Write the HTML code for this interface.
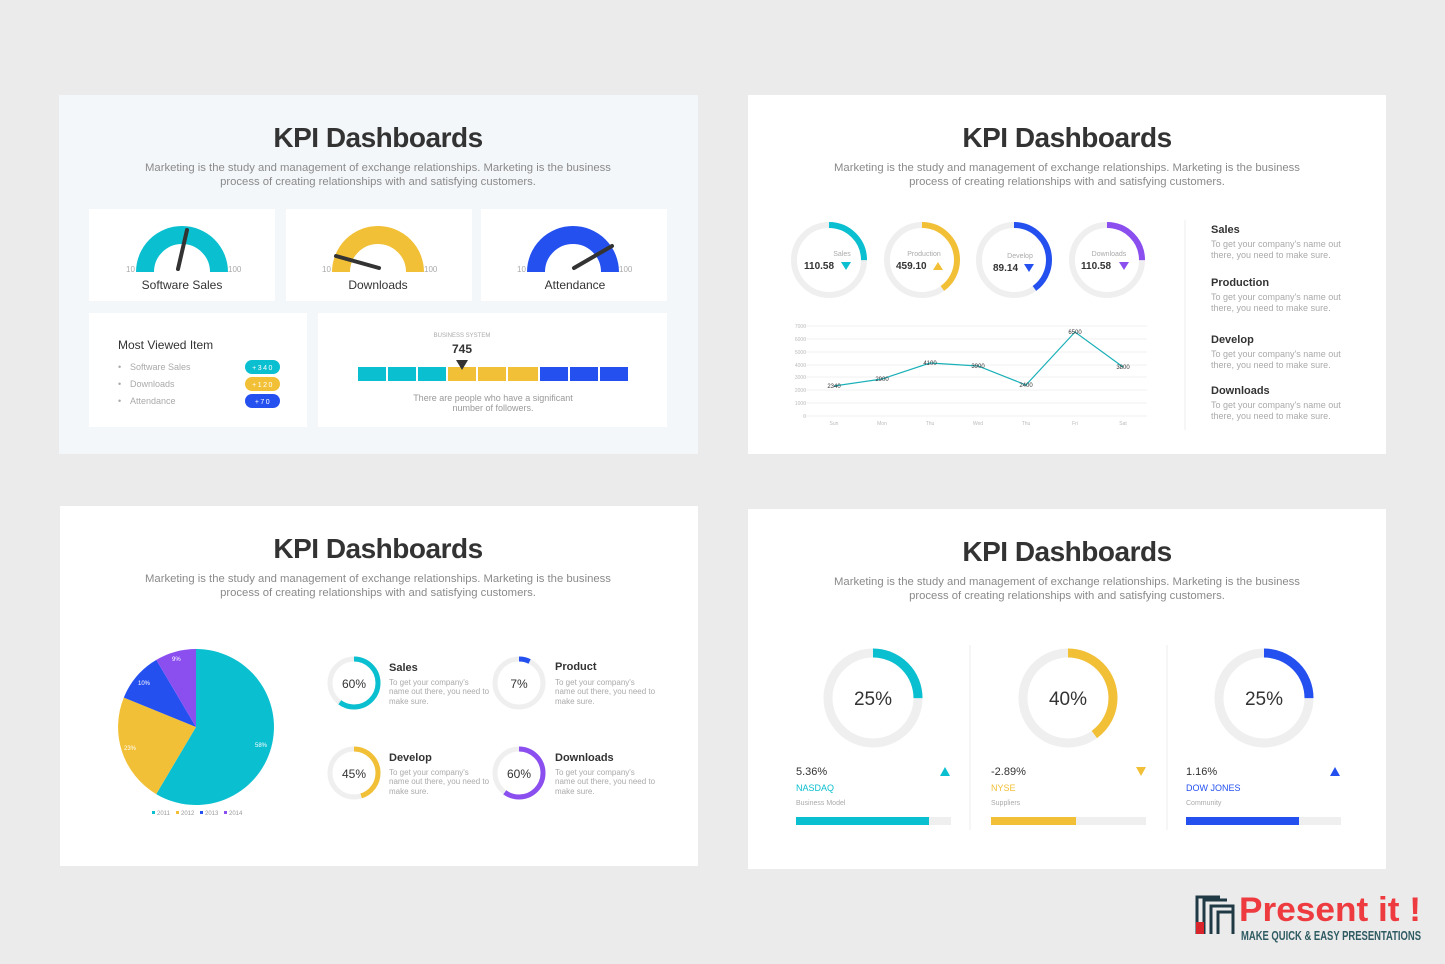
<!DOCTYPE html>
<html><head><meta charset="utf-8"><style>
html,body{margin:0;padding:0;background:#ebebeb;}
svg{display:block;font-family:"Liberation Sans",sans-serif;}
.t{font-size:28px;font-weight:bold;fill:#333;text-anchor:middle;letter-spacing:-0.5px}
.s{font-size:11.3px;fill:#8a8a8a;text-anchor:middle}
.g{fill:#aaa;font-size:8px}
.h{font-size:11px;font-weight:bold;fill:#333}
.d{font-size:9px;fill:#aaa}
</style></head><body>
<svg width="1445" height="964" viewBox="0 0 1445 964">
<rect width="1445" height="964" fill="#ebebeb"/>
<!-- TL -->
<rect x="59" y="95" width="639" height="359" fill="#f4f7fa"/>
<text class="t" x="378" y="147">KPI Dashboards</text>
<text class="s" x="378" y="171">Marketing is the study and management of exchange relationships. Marketing is the business</text>
<text class="s" x="378" y="185">process of creating relationships with and satisfying customers.</text>
<rect x="89" y="209" width="186" height="92" fill="#fff"/>
<rect x="286" y="209" width="186" height="92" fill="#fff"/>
<rect x="481" y="209" width="186" height="92" fill="#fff"/>
<path d="M145,272 A37,37 0 0 1 219,272" fill="none" stroke="#0abfcf" stroke-width="18"/>
<path d="M341,272 A37,37 0 0 1 415,272" fill="none" stroke="#f2c037" stroke-width="18"/>
<path d="M536,272 A37,37 0 0 1 610,272" fill="none" stroke="#2450f0" stroke-width="18"/>
<line x1="178" y1="269" x2="187" y2="230" stroke="#333" stroke-width="4" stroke-linecap="round"/>
<line x1="379" y1="268" x2="336" y2="256" stroke="#333" stroke-width="4" stroke-linecap="round"/>
<line x1="574" y1="268" x2="612" y2="246" stroke="#333" stroke-width="4" stroke-linecap="round"/>
<text class="g" x="126" y="272" font-size="6">10</text><text class="g" x="228" y="272" font-size="6">100</text>
<text class="g" x="322" y="272" font-size="6">10</text><text class="g" x="424" y="272" font-size="6">100</text>
<text class="g" x="517" y="272" font-size="6">10</text><text class="g" x="619" y="272" font-size="6">100</text>
<text x="182" y="289" font-size="12" fill="#333" text-anchor="middle">Software Sales</text>
<text x="378" y="289" font-size="12" fill="#333" text-anchor="middle">Downloads</text>
<text x="575" y="289" font-size="12" fill="#333" text-anchor="middle">Attendance</text>
<rect x="89" y="313" width="218" height="114" fill="#fff"/>
<rect x="318" y="313" width="349" height="114" fill="#fff"/>
<text x="118" y="349" font-size="12" fill="#333">Most Viewed Item</text>
<g font-size="9" fill="#aaa"><text x="118" y="370">•</text><text x="130" y="370">Software Sales</text>
<text x="118" y="387">•</text><text x="130" y="387">Downloads</text>
<text x="118" y="404">•</text><text x="130" y="404">Attendance</text></g>
<rect x="245" y="360" width="35" height="14" rx="7" fill="#0abfcf"/>
<rect x="245" y="377" width="35" height="14" rx="7" fill="#f2c037"/>
<rect x="245" y="394" width="35" height="14" rx="7" fill="#2450f0"/>
<g font-size="7" fill="#fff" text-anchor="middle" letter-spacing="1.5"><text x="263" y="370">+340</text><text x="263" y="387">+120</text><text x="263" y="404">+70</text></g>
<text x="462" y="337" font-size="6" fill="#aaa" text-anchor="middle">BUSINESS SYSTEM</text>
<text x="462" y="353" font-size="12" font-weight="bold" fill="#333" text-anchor="middle">745</text>
<rect x="358" y="367" width="28" height="14" fill="#0abfcf"/><rect x="388" y="367" width="28" height="14" fill="#0abfcf"/><rect x="418" y="367" width="28" height="14" fill="#0abfcf"/>
<rect x="448" y="367" width="28" height="14" fill="#f2c037"/><rect x="478" y="367" width="28" height="14" fill="#f2c037"/><rect x="508" y="367" width="30" height="14" fill="#f2c037"/>
<rect x="540" y="367" width="28" height="14" fill="#2450f0"/><rect x="570" y="367" width="28" height="14" fill="#2450f0"/><rect x="600" y="367" width="28" height="14" fill="#2450f0"/>
<polygon points="456,360 468,360 462,370" fill="#333"/>
<text x="493" y="401" font-size="9" fill="#999" text-anchor="middle">There are people who have a significant</text>
<text x="493" y="411" font-size="9" fill="#999" text-anchor="middle">number of followers.</text>

<!-- TR -->
<rect x="748" y="95" width="638" height="359" fill="#fff"/>
<text class="t" x="1067" y="147">KPI Dashboards</text>
<text class="s" x="1067" y="171">Marketing is the study and management of exchange relationships. Marketing is the business</text>
<text class="s" x="1067" y="185">process of creating relationships with and satisfying customers.</text>
<g fill="none" stroke-width="6">
<circle cx="829" cy="260" r="35" stroke="#efefef"/><circle cx="922" cy="260" r="35" stroke="#efefef"/><circle cx="1014" cy="260" r="35" stroke="#efefef"/><circle cx="1107" cy="260" r="35" stroke="#efefef"/>
<circle cx="829" cy="260" r="35" stroke="#0abfcf" stroke-dasharray="55 200" transform="rotate(-90 829 260)"/>
<circle cx="922" cy="260" r="35" stroke="#f2c037" stroke-dasharray="88 200" transform="rotate(-90 922 260)"/>
<circle cx="1014" cy="260" r="35" stroke="#2450f0" stroke-dasharray="88 200" transform="rotate(-90 1014 260)"/>
<circle cx="1107" cy="260" r="35" stroke="#8b4ff0" stroke-dasharray="55 200" transform="rotate(-90 1107 260)"/>
</g>
<g font-size="7" fill="#aaa" text-anchor="middle"><text x="842" y="256">Sales</text><text x="924" y="256">Production</text><text x="1020" y="258">Develop</text><text x="1109" y="256">Downloads</text></g>
<g font-size="10" font-weight="bold" fill="#333"><text x="804" y="269">110.58</text><text x="896" y="269">459.10</text><text x="993" y="271">89.14</text><text x="1081" y="269">110.58</text></g>
<polygon points="841,262 851,262 846,270" fill="#0abfcf"/>
<polygon points="933,270 943,270 938,262" fill="#f2c037"/>
<polygon points="1024,264 1034,264 1029,272" fill="#2450f0"/>
<polygon points="1119,262 1129,262 1124,270" fill="#8b4ff0"/>
<g stroke="#f0f0f0" stroke-width="1">
<line x1="803" y1="326" x2="1147" y2="326"/><line x1="803" y1="339" x2="1147" y2="339"/><line x1="803" y1="352" x2="1147" y2="352"/><line x1="803" y1="365" x2="1147" y2="365"/><line x1="803" y1="377" x2="1147" y2="377"/><line x1="803" y1="390" x2="1147" y2="390"/><line x1="803" y1="403" x2="1147" y2="403"/><line x1="803" y1="416" x2="1147" y2="416"/></g>
<g font-size="5" fill="#bbb" text-anchor="end"><text x="806" y="328">7000</text><text x="806" y="341">6000</text><text x="806" y="354">5000</text><text x="806" y="367">4000</text><text x="806" y="379">3000</text><text x="806" y="392">2000</text><text x="806" y="405">1000</text><text x="806" y="418">0</text></g>
<g font-size="5" fill="#bbb" text-anchor="middle"><text x="834" y="425">Sun</text><text x="882" y="425">Mon</text><text x="930" y="425">Thu</text><text x="978" y="425">Wed</text><text x="1026" y="425">Thu</text><text x="1075" y="425">Fri</text><text x="1123" y="425">Sat</text></g>
<polyline points="834,386 882,379 930,363 978,366 1026,385 1075,332 1123,367" fill="none" stroke="#1ab0b8" stroke-width="1.2"/>
<g font-size="6" fill="#333" text-anchor="middle"><text x="834" y="388">2340</text><text x="882" y="381">2900</text><text x="930" y="365">4100</text><text x="978" y="368">3900</text><text x="1026" y="387">2400</text><text x="1075" y="334">6500</text><text x="1123" y="369">3800</text></g>
<line x1="1185" y1="220" x2="1185" y2="430" stroke="#eee"/>
<text class="h" x="1211" y="233">Sales</text><text class="d" x="1211" y="247">To get your company's name out</text><text class="d" x="1211" y="258">there, you need to make sure.</text>
<text class="h" x="1211" y="286">Production</text><text class="d" x="1211" y="300">To get your company's name out</text><text class="d" x="1211" y="311">there, you need to make sure.</text>
<text class="h" x="1211" y="343">Develop</text><text class="d" x="1211" y="357">To get your company's name out</text><text class="d" x="1211" y="368">there, you need to make sure.</text>
<text class="h" x="1211" y="394">Downloads</text><text class="d" x="1211" y="408">To get your company's name out</text><text class="d" x="1211" y="419">there, you need to make sure.</text>

<!-- BL -->
<rect x="60" y="506" width="638" height="360" fill="#fff"/>
<text class="t" x="378" y="558">KPI Dashboards</text>
<text class="s" x="378" y="582">Marketing is the study and management of exchange relationships. Marketing is the business</text>
<text class="s" x="378" y="596">process of creating relationships with and satisfying customers.</text>
<path d="M196,727 L196,649 A78,78 0 1 1 156.2,794.1 Z" fill="#0abfcf"/>
<path d="M196,727 L156.2,794.1 A78,78 0 0 1 123.8,697.6 Z" fill="#f2c037"/>
<path d="M196,727 L123.8,697.6 A78,78 0 0 1 156.3,659.9 Z" fill="#2450f0"/>
<path d="M196,727 L156.3,659.9 A78,78 0 0 1 196,649 Z" fill="#8b4ff0"/>
<g font-size="6" fill="#fff"><text x="255" y="747">58%</text><text x="124" y="750">23%</text><text x="138" y="685">10%</text><text x="172" y="661">9%</text></g>
<g font-size="6" fill="#999"><rect x="152" y="811" width="3" height="3" fill="#0abfcf"/><text x="157" y="815">2011</text><rect x="176" y="811" width="3" height="3" fill="#f2c037"/><text x="181" y="815">2012</text><rect x="200" y="811" width="3" height="3" fill="#2450f0"/><text x="205" y="815">2013</text><rect x="224" y="811" width="3" height="3" fill="#8b4ff0"/><text x="229" y="815">2014</text></g>
<g fill="none" stroke-width="5">
<circle cx="354" cy="683" r="24" stroke="#efefef"/><circle cx="519" cy="683" r="24" stroke="#efefef"/><circle cx="354" cy="773" r="24" stroke="#efefef"/><circle cx="519" cy="773" r="24" stroke="#efefef"/>
<circle cx="354" cy="683" r="24" stroke="#0abfcf" stroke-dasharray="90.5 200" transform="rotate(-90 354 683)"/>
<circle cx="519" cy="683" r="24" stroke="#2450f0" stroke-dasharray="11 200" transform="rotate(-90 519 683)"/>
<circle cx="354" cy="773" r="24" stroke="#f2c037" stroke-dasharray="68 200" transform="rotate(-90 354 773)"/>
<circle cx="519" cy="773" r="24" stroke="#8b4ff0" stroke-dasharray="90.5 200" transform="rotate(-90 519 773)"/>
</g>
<g font-size="12" fill="#333" text-anchor="middle"><text x="354" y="688">60%</text><text x="519" y="688">7%</text><text x="354" y="778">45%</text><text x="519" y="778">60%</text></g>
<g font-size="8" fill="#aaa">
<text class="h" x="389" y="671">Sales</text><text x="389" y="685">To get your company's</text><text x="389" y="694">name out there, you need to</text><text x="389" y="704">make sure.</text>
<text class="h" x="555" y="670">Product</text><text x="555" y="685">To get your company's</text><text x="555" y="694">name out there, you need to</text><text x="555" y="704">make sure.</text>
<text class="h" x="389" y="761">Develop</text><text x="389" y="775">To get your company's</text><text x="389" y="784">name out there, you need to</text><text x="389" y="794">make sure.</text>
<text class="h" x="555" y="761">Downloads</text><text x="555" y="775">To get your company's</text><text x="555" y="784">name out there, you need to</text><text x="555" y="794">make sure.</text>
</g>

<!-- BR -->
<rect x="748" y="509" width="638" height="360" fill="#fff"/>
<text class="t" x="1067" y="561">KPI Dashboards</text>
<text class="s" x="1067" y="585">Marketing is the study and management of exchange relationships. Marketing is the business</text>
<text class="s" x="1067" y="599">process of creating relationships with and satisfying customers.</text>
<line x1="970" y1="645" x2="970" y2="830" stroke="#eee"/><line x1="1167" y1="645" x2="1167" y2="830" stroke="#eee"/>
<g fill="none" stroke-width="9">
<circle cx="873" cy="698" r="45" stroke="#efefef"/><circle cx="1068" cy="698" r="45" stroke="#efefef"/><circle cx="1264" cy="698" r="45" stroke="#efefef"/>
<circle cx="873" cy="698" r="45" stroke="#0abfcf" stroke-dasharray="70.7 300" transform="rotate(-90 873 698)"/>
<circle cx="1068" cy="698" r="45" stroke="#f2c037" stroke-dasharray="113 300" transform="rotate(-90 1068 698)"/>
<circle cx="1264" cy="698" r="45" stroke="#2450f0" stroke-dasharray="70.7 300" transform="rotate(-90 1264 698)"/>
</g>
<g font-size="19" fill="#333" text-anchor="middle"><text x="873" y="705">25%</text><text x="1068" y="705">40%</text><text x="1264" y="705">25%</text></g>
<g font-size="11" fill="#333"><text x="796" y="775">5.36%</text><text x="991" y="775">-2.89%</text><text x="1186" y="775">1.16%</text></g>
<polygon points="940,776 950,776 945,767" fill="#0abfcf"/>
<polygon points="1136,767 1146,767 1141,776" fill="#f2c037"/>
<polygon points="1330,776 1340,776 1335,767" fill="#2450f0"/>
<g font-size="9"><text x="796" y="791" fill="#0abfcf">NASDAQ</text><text x="991" y="791" fill="#f2c037">NYSE</text><text x="1186" y="791" fill="#2450f0">DOW JONES</text></g>
<g font-size="7" fill="#aaa"><text x="796" y="805">Business Model</text><text x="991" y="805">Suppliers</text><text x="1186" y="805">Community</text></g>
<rect x="796" y="817" width="155" height="8" fill="#efefef"/><rect x="796" y="817" width="133" height="8" fill="#0abfcf"/>
<rect x="991" y="817" width="155" height="8" fill="#efefef"/><rect x="991" y="817" width="85" height="8" fill="#f2c037"/>
<rect x="1186" y="817" width="155" height="8" fill="#efefef"/><rect x="1186" y="817" width="113" height="8" fill="#2450f0"/>

<!-- logo -->
<g fill="none" stroke="#1f3a44" stroke-width="3">
<path d="M1211,934 V906 H1233 V934"/><path d="M1204,934 V900 H1227"/><path d="M1218,934 V912 H1233"/>
</g>
<path d="M1197,934 V897 H1220" fill="none" stroke="#1f3a44" stroke-width="3"/>
<rect x="1196" y="922" width="8" height="12" fill="#d9242b"/>
<text x="1239" y="921" font-size="34" font-weight="bold" fill="#ee3b40" textLength="182" lengthAdjust="spacingAndGlyphs">Present it !</text>
<text x="1241" y="940" font-size="13" font-weight="bold" fill="#2f5b63" textLength="180" lengthAdjust="spacingAndGlyphs">MAKE QUICK &amp; EASY PRESENTATIONS</text>
</svg>
</body></html>
